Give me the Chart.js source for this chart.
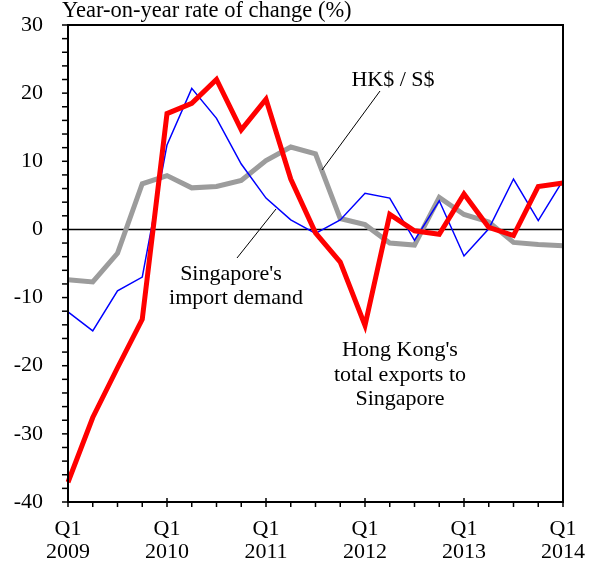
<!DOCTYPE html>
<html>
<head>
<meta charset="utf-8">
<script src="https://cdn.jsdelivr.net/npm/chart.js@4.4.0/dist/chart.umd.min.js"></script>
<style>
  html, body { margin: 0; padding: 0; background: #fff; }
</style>
</head>
<body>
<canvas id="chart" width="593" height="568"></canvas>
<script>
const quarters = [
  "Q1 2009", "Q2 2009", "Q3 2009", "Q4 2009",
  "Q1 2010", "Q2 2010", "Q3 2010", "Q4 2010",
  "Q1 2011", "Q2 2011", "Q3 2011", "Q4 2011",
  "Q1 2012", "Q2 2012", "Q3 2012", "Q4 2012",
  "Q1 2013", "Q2 2013", "Q3 2013", "Q4 2013",
  "Q1 2014"
];
const hkExports = [-37.1, -27.6, -20.3, -13.2, 17.0, 18.5, 22.0, 14.6, 19.1, 7.4, -0.5,
  -4.8, -14.1, 2.2, -0.2, -0.7, 5.2, 0.3, -0.9, 6.3, 6.8];
const sgImports = [-12.1, -14.9, -9.0, -7.0, 12.4, 20.7, 16.3, 9.6, 4.6, 1.4, -0.6,
  1.4, 5.3, 4.6, -1.6, 4.2, -3.9, 0.1, 7.4, 1.3, 7.2];
const hkdSgd = [-7.4, -7.7, -3.5, 6.7, 7.9, 6.1, 6.3, 7.2, 10.1, 12.1, 11.1,
  1.6, 0.7, -2.0, -2.3, 4.7, 2.2, 1.1, -1.9, -2.2, -2.4];
const yTicks = [-40, -30, -20, -10, 0, 10, 20, 30];

const serif = "'Liberation Serif', 'DejaVu Serif', serif";

const decorations = {
  id: "decorations",
  beforeDatasetsDraw(chart) {
    const { ctx, chartArea, scales } = chart;
    const y0 = scales.y.getPixelForValue(0);
    ctx.save();
    ctx.strokeStyle = "#000";
    ctx.lineWidth = 1.5;
    ctx.beginPath();
    ctx.moveTo(chartArea.left, y0);
    ctx.lineTo(chartArea.right, y0);
    ctx.stroke();
    ctx.restore();
  },
  afterDraw(chart) {
    const { ctx, chartArea, scales } = chart;
    const { left, right, top, bottom } = chartArea;
    ctx.save();
    ctx.strokeStyle = "#000";
    ctx.lineWidth = 2;
    ctx.strokeRect(left, top, right - left, bottom - top);

    // y ticks every 2 units, outside
    ctx.lineWidth = 1.5;
    for (let v = -40; v <= 30; v += 2) {
      const py = scales.y.getPixelForValue(v);
      ctx.beginPath();
      ctx.moveTo(left - 6, py);
      ctx.lineTo(left, py);
      ctx.stroke();
    }
    // x ticks each quarter below the axis, Q1 crossing it
    quarters.forEach((q, i) => {
      const px = scales.x.getPixelForValue(i);
      ctx.beginPath();
      ctx.moveTo(px, i % 4 === 0 ? bottom - 4 : bottom);
      ctx.lineTo(px, bottom + 5);
      ctx.stroke();
    });

    ctx.fillStyle = "#000";
    ctx.font = "22.5px " + serif;
    ctx.textBaseline = "middle";
    ctx.textAlign = "left";
    ctx.fillText("Year-on-year rate of change (%)", 62, 11);

    ctx.font = "22px " + serif;
    ctx.textAlign = "center";
    ctx.fillText("HK$ / S$", 393, 80);
    ctx.fillText("Singapore's", 231, 274);
    ctx.fillText("import demand", 236, 298);
    ctx.fillText("Hong Kong's", 400, 350);
    ctx.fillText("total exports to", 400, 375);
    ctx.fillText("Singapore", 400, 399);

    ctx.lineWidth = 1;
    ctx.beginPath();
    ctx.moveTo(380, 91);
    ctx.lineTo(322, 170);
    ctx.moveTo(237, 258);
    ctx.lineTo(276, 209);
    ctx.stroke();
    ctx.restore();
  }
};

new Chart(document.getElementById("chart"), {
  type: "line",
  data: {
    labels: quarters,
    datasets: [
      {
        label: "Hong Kong's total exports to Singapore",
        data: hkExports,
        borderColor: "#ff0000",
        borderWidth: 5,
        pointRadius: 0,
        tension: 0,
        order: 1
      },
      {
        label: "Singapore's import demand",
        data: sgImports,
        borderColor: "#0000ff",
        borderWidth: 1.5,
        pointRadius: 0,
        tension: 0,
        order: 2
      },
      {
        label: "HK$ / S$",
        data: hkdSgd,
        borderColor: "#9c9c9c",
        borderWidth: 5,
        pointRadius: 0,
        tension: 0,
        order: 3
      }
    ]
  },
  options: {
    responsive: false,
    animation: false,
    layout: { padding: { top: 25, right: 30, left: 0, bottom: 0 } },
    plugins: {
      legend: { display: false },
      tooltip: { enabled: false }
    },
    scales: {
      x: {
        offset: false,
        grid: { display: false, drawTicks: false },
        border: { display: false },
        afterFit(scale) {
          scale.height = 66;
          scale.paddingLeft = 0;
          scale.paddingRight = 0;
        },
        ticks: {
          autoSkip: false,
          maxRotation: 0,
          padding: 16,
          color: "#000",
          font: { family: serif, size: 22, lineHeight: 1.05 },
          callback(value, index) {
            if (index % 4 !== 0) return "";
            return quarters[index].split(" ");
          }
        }
      },
      y: {
        min: -40,
        max: 30,
        grid: { display: false, drawTicks: false },
        border: { display: false },
        afterFit(scale) {
          scale.width = 68;
          scale.paddingTop = 0;
          scale.paddingBottom = 0;
        },
        afterBuildTicks(scale) { scale.ticks = yTicks.map(v => ({ value: v })); },
        ticks: {
          padding: 25,
          color: "#000",
          font: { family: serif, size: 22 }
        }
      }
    }
  },
  plugins: [decorations]
});
</script>
</body>
</html>
